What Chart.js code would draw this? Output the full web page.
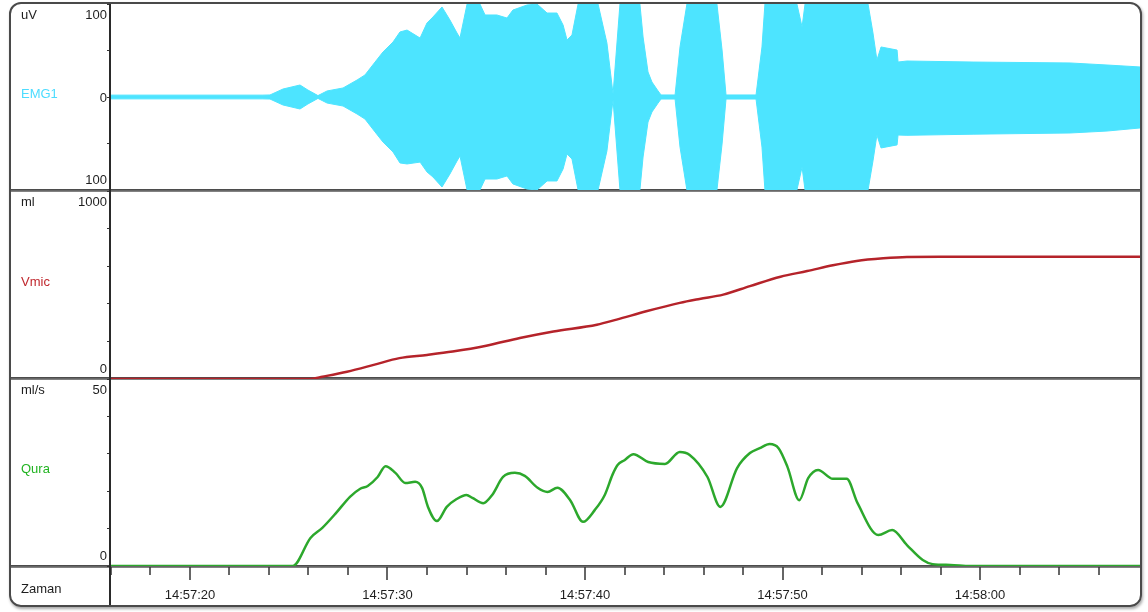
<!DOCTYPE html>
<html>
<head>
<meta charset="UTF-8">
<title>EMG1 / Vmic / Qura</title>
<script src="https://cdn.jsdelivr.net/npm/chart.js"></script>
<style>
  body { margin: 0; background: #fff; width: 1148px; height: 612px; overflow: hidden; }
  #frame { position: absolute; left: 9px; top: 2px; width: 1129px; height: 601px; border: 2px solid #4a4a4a; border-radius: 12px; box-shadow: 1px 2px 3px rgba(0,0,0,0.35); }
  .divider { position: absolute; left: 11px; width: 1129px; height: 3px; background: linear-gradient(#3f3f3f, #8f8f8f); }
  #axisline { position: absolute; left: 109px; top: 4px; width: 2px; height: 601px; background: #2a2a2a; z-index: 2; }
  canvas { position: absolute; left: 10px; z-index: 1; }
</style>
</head>
<body>
<div id="frame"></div>
<div class="divider" style="top:189px"></div>
<div class="divider" style="top:377px"></div>
<div class="divider" style="top:565px"></div>
<div id="axisline"></div>
<canvas id="emg" width="1130" height="186" style="top:4px"></canvas>
<canvas id="vmic" width="1130" height="191" style="top:190px"></canvas>
<canvas id="qura" width="1130" height="227" style="top:379px"></canvas>

<script>
// time axis in seconds after 14:57:00
const xMin = 15.95;
const xMax = 68.1;

// EMG1 envelope (uV)
const emgTime = [15.95, 23.65, 24.05, 24.71, 25.57, 25.97, 26.48, 26.94, 27.75, 28.46, 28.86, 29.37, 29.77, 30.28, 30.63, 30.99,
  31.65, 32.0, 32.3, 32.76, 33.16, 33.52, 33.67, 34.03, 34.68, 34.94, 35.54, 36.05, 36.35, 37.06, 37.57, 38.08, 38.58, 38.89,
  39.09, 39.34, 39.65, 40.66, 41.11, 41.42, 41.77, 42.78, 42.94, 43.19, 43.39, 43.7, 43.85, 44.56, 44.81, 45.16, 46.68, 46.94,
  47.14, 48.66, 48.96, 49.11, 50.73, 50.99, 51.14, 54.33, 54.58, 54.78, 54.99, 55.8, 55.85, 56.3, 59.65, 64.56, 66.43, 68.1];
const emgTop = [2, 2, 2.2, 8.6, 12.9, 7.5, 1.5, 6.5, 9.7, 18.3, 23.7, 37.6, 48.4, 59.1, 69.9, 72,
  63.4, 79.6, 86, 96.8, 82.8, 68.8, 63.4, 100, 100, 88.2, 88.2, 84.9, 93.5, 98.9, 100, 90.3, 90.3, 77.4,
  61.3, 66.7, 100, 100, 58, 3.2, 100, 100, 64.5, 26.9, 16.1, 6.5, 2.2, 2.2, 53.8, 100, 100, 50.5,
  2.2, 2.2, 53.8, 100, 100, 75.3, 100, 100, 68.8, 39.8, 53.8, 50.5, 37.6, 38.7, 37.6, 36.6, 34.4, 32.3];
const emgBottom = [-2, -2, -2.2, -8.6, -12.9, -7.5, -1.5, -6.5, -9.7, -18.3, -23.7, -37.6, -48.4, -59.1, -70.9, -72,
  -70, -80.6, -86, -96.8, -82.8, -68.8, -63.4, -100, -100, -88.2, -88.2, -84.9, -93.5, -98.9, -100, -90.3, -90.3, -77.4,
  -61.3, -66.7, -100, -100, -58, -3.2, -100, -100, -64.5, -26.9, -16.1, -6.5, -2.2, -2.2, -53.8, -100, -100, -50.5,
  -2.2, -2.2, -53.8, -100, -100, -75.3, -100, -100, -68.8, -40.9, -54.8, -51.5, -40.9, -41.2, -40, -38.7, -36.6, -33.3];

// Vmic (ml)
const vmicTime = [15.95, 25.5, 26.2, 26.7, 27.95, 29.3, 30.6, 32.0, 33.3, 35.0, 36.7, 38.4, 40.6, 41.6, 43.1, 44.8, 45.8,
  47.0, 48.35, 49.9, 51.25, 52.55, 53.75, 55.1, 56.3, 58.0, 68.1];
const vmicValues = [0, 0, 2, 12, 39, 75, 111, 128, 146, 177, 218, 253, 289, 316, 360, 405, 426,
  449, 494, 544, 574, 605, 628, 642, 649, 650, 650];

// Qura (ml/s)
const quraTime = [15.95, 25.2, 26.1, 26.7, 27.4, 28.1, 28.6, 29.0, 29.5, 29.9, 30.4, 30.9, 31.4, 31.75, 32.05, 32.5, 33.0,
  33.5, 34.0, 34.3, 34.85, 35.3, 35.85, 36.45, 36.95, 37.6, 38.1, 38.6, 39.25, 39.9, 40.5, 41.0, 41.4, 41.65, 42.0, 42.45,
  43.2, 44.05, 44.8, 45.3, 46.2, 46.85, 47.7, 48.35, 48.85, 49.35, 49.8, 50.25, 50.85, 51.3, 51.8, 52.55, 53.25, 53.8,
  54.85, 55.55, 56.3, 57.1, 57.6, 58.5, 59.5, 68.1];
const quraValues = [0, 0, 7.5, 10.2, 14.2, 18.5, 20.6, 21.4, 23.8, 26.7, 24.9, 22.2, 22.5, 20.9, 15.8, 12.0, 15.8,
  17.9, 19.0, 18.2, 16.8, 19.0, 23.8, 24.9, 24.1, 20.9, 19.8, 20.9, 17.6, 11.8, 15.0, 19.0, 24.5, 27.0, 28.3, 29.9,
  27.8, 27.3, 30.5, 29.7, 23.8, 15.8, 26.2, 30.2, 31.5, 32.6, 31.5, 26.5, 17.6, 23.5, 25.7, 23.3, 23.3, 16.8,
  8.3, 9.6, 5.6, 1.6, 0.5, 0.3, 0, 0];

// tick labels
const emgTickLabels = ['100', '0', '100'];
const vmicTickLabels = ['1000', '0'];
const quraTickLabels = ['50', '0'];
const timeTickValues = [20, 30, 40, 50, 60];
const timeTickLabels = ['14:57:20', '14:57:30', '14:57:40', '14:57:50', '14:58:00'];

const FONT = '"Liberation Sans", Arial, sans-serif';
const TEXT = '#1e1e1e';

// unit, channel name and value labels in the left column
const sideText = {
  id: 'sideText',
  afterDraw(chart, args, opts) {
    const ctx = chart.ctx, area = chart.chartArea, y = chart.scales.y;
    const right = area.left - 3;
    ctx.save();
    ctx.font = '13px ' + FONT;
    ctx.textBaseline = 'middle';
    ctx.textAlign = 'left';
    ctx.fillStyle = TEXT;
    ctx.fillText(opts.unit, 11, area.top + 11);
    ctx.fillStyle = opts.color;
    ctx.fillText(opts.name, 11, (area.top + area.bottom) / 2 - 3);
    ctx.fillStyle = TEXT;
    ctx.textAlign = 'right';
    const labels = opts.labels;
    ctx.fillText(labels[0], right, y.getPixelForValue(y.max) + 11);
    ctx.fillText(labels[labels.length - 1], right, y.getPixelForValue(y.min) - 10);
    if (labels.length === 3) ctx.fillText(labels[1], right, y.getPixelForValue(0) + 1);
    if (opts.footer) {
      ctx.textAlign = 'left';
      ctx.fillText(opts.footer, 11, area.bottom + 23);
    }
    ctx.restore();
  }
};

// long ticks every 10 s, short ticks every 2 s
const timeTicks = {
  id: 'timeTicks',
  afterDraw(chart) {
    const x = chart.scales.x;
    if (!x.options.display) return;
    const ctx = chart.ctx, top = chart.chartArea.bottom + 1;
    ctx.save();
    ctx.strokeStyle = '#333';
    ctx.lineWidth = 1.5;
    x.ticks.forEach(t => {
      if (t.value <= x.min || t.value > x.max) return;
      const px = Math.round(x.getPixelForValue(t.value));
      if (px > chart.chartArea.right - 4) return; // hidden under the frame
      const len = timeTickValues.includes(Math.round(t.value)) ? 13 : 8;
      ctx.beginPath();
      ctx.moveTo(px, top);
      ctx.lineTo(px, top + len);
      ctx.stroke();
    });
    ctx.restore();
  }
};

function points(xs, ys) {
  return xs.map((t, i) => ({ x: t, y: ys[i] }));
}

function panelOptions(yMin, yMax, step, side, showTime, padding) {
  return {
    responsive: false,
    animation: false,
    events: [],
    layout: { padding: padding },
    elements: { point: { radius: 0 } },
    plugins: { legend: { display: false }, tooltip: { enabled: false }, sideText: side },
    scales: {
      x: {
        type: 'linear', min: xMin, max: xMax, display: showTime,
        border: { display: false },
        // invisible tick marks only push the labels down; the visible ones come from timeTicks
        grid: { drawOnChartArea: false, drawTicks: true, tickLength: 22, tickColor: 'rgba(0,0,0,0)' },
        ticks: {
          stepSize: 2, includeBounds: false, autoSkip: false, maxRotation: 0, padding: 0,
          color: TEXT, font: { size: 13, family: FONT },
          callback: v => {
            const i = timeTickValues.indexOf(Math.round(v * 100) / 100);
            return i < 0 ? '' : timeTickLabels[i];
          }
        },
        afterFit: s => { s.height = showTime ? 40 : 0; }
      },
      y: {
        min: yMin, max: yMax,
        border: { display: false },
        grid: { drawOnChartArea: false, drawTicks: true, tickLength: 3, color: '#333' },
        ticks: { display: false, stepSize: step },
        afterFit: s => { s.width = 100; }
      }
    }
  };
}

const emgColor = '#4de4ff';
new Chart(document.getElementById('emg'), {
  type: 'line',
  data: {
    datasets: [
      { data: points(emgTime, emgTop), borderColor: emgColor, borderWidth: 1, fill: false, tension: 0 },
      { data: points(emgTime, emgBottom), borderColor: emgColor, borderWidth: 1, backgroundColor: emgColor, fill: '-1', tension: 0 }
    ]
  },
  options: panelOptions(-100, 100, 50, { unit: 'uV', name: 'EMG1', color: '#4ddcff', labels: emgTickLabels }, false, 0),
  plugins: [sideText]
});

new Chart(document.getElementById('vmic'), {
  type: 'line',
  data: {
    datasets: [
      { data: points(vmicTime, vmicValues), borderColor: '#b5232a', borderWidth: 2.5, fill: false, cubicInterpolationMode: 'monotone' }
    ]
  },
  options: panelOptions(0, 1000, 200, { unit: 'ml', name: 'Vmic', color: '#c0282e', labels: vmicTickLabels }, false, { top: 1, bottom: 2 }),
  plugins: [sideText]
});

new Chart(document.getElementById('qura'), {
  type: 'line',
  data: {
    datasets: [
      { data: points(quraTime, quraValues), borderColor: '#2ca82c', borderWidth: 2.5, fill: false, cubicInterpolationMode: 'monotone' }
    ]
  },
  options: panelOptions(0, 50, 10, { unit: 'ml/s', name: 'Qura', color: '#22b422', labels: quraTickLabels, footer: 'Zaman' }, true, 0),
  plugins: [sideText, timeTicks]
});
</script>
</body>
</html>
